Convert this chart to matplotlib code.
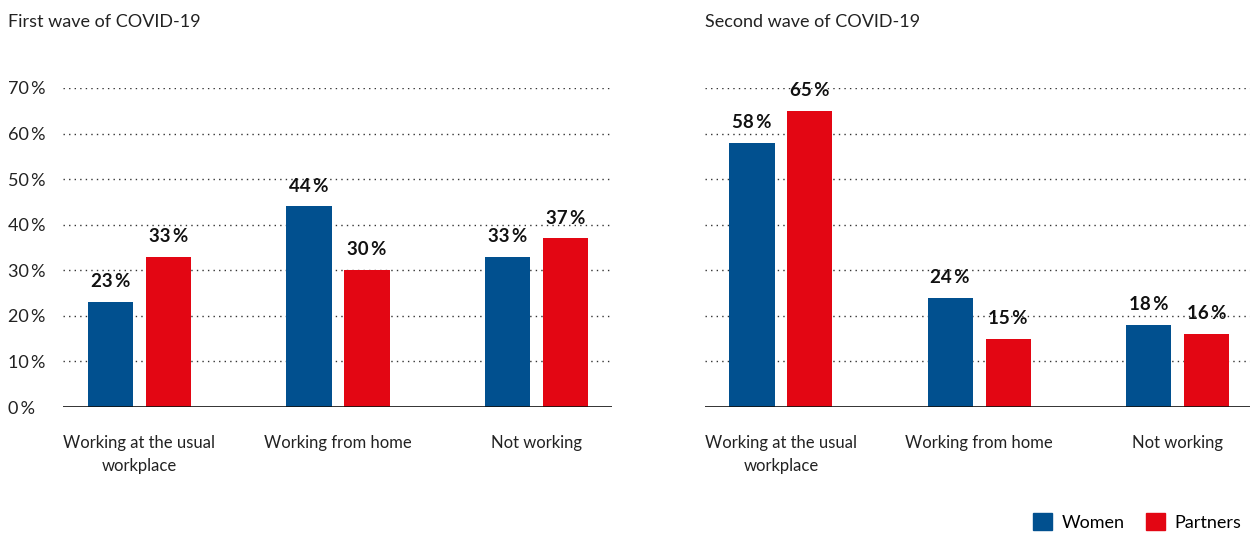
import numpy as np
import matplotlib.pyplot as plt
from matplotlib.patches import Patch

plt.rcParams['font.family'] = ['Lato', 'DejaVu Sans']

# Datos de las dos olas
categorias = ["Working at the usual\nworkplace", "Working from home", "Not working"]
mujeres_ola1 = [23, 44, 33]
parejas_ola1 = [33, 30, 37]
mujeres_ola2 = [58, 24, 18]
parejas_ola2 = [65, 15, 16]
titulos = ["First wave of COVID-19", "Second wave of COVID-19"]
yticks = [0, 10, 20, 30, 40, 50, 60, 70]

azul = "#01508F"
rojo = "#E30613"

fig = plt.figure(figsize=(12.58, 5.33), dpi=100)
ax1 = fig.add_axes([63/1258, 126/533, 549/1258, 319/533])
ax2 = fig.add_axes([705/1258, 126/533, 545/1258, 319/533])

x = np.arange(len(categorias))
ancho = 0.228
desp = 0.146


def dibujar(ax, mujeres, parejas, etiquetas_y, xlim):
    b1 = ax.bar(x - desp, mujeres, ancho, color=azul, zorder=3)
    b2 = ax.bar(x + desp, parejas, ancho, color=rojo, zorder=3)
    for barras, vals in ((b1, mujeres), (b2, parejas)):
        for b, v in zip(barras, vals):
            ax.text(b.get_x() + b.get_width()/2, v + 2.6, f"{v}\u2009%",
                    ha="center", va="bottom", fontsize=13.5, fontweight="bold",
                    color="#111111", clip_on=False, zorder=4)
    ax.set_ylim(0, 70)
    ax.set_xlim(*xlim)
    ax.set_yticks(yticks)
    for s in ax.spines.values():
        s.set_visible(False)
    for t in yticks[1:]:
        ax.axhline(t, color="#333333", lw=1.0, ls=(0, (1, 3)), zorder=1)
    ax.axhline(0, color="#111111", lw=1.2, zorder=4)
    ax.set_xticks(x)
    ax.set_xticklabels(categorias, fontsize=12, color="#222222", linespacing=1.55)
    ax.tick_params(axis="x", length=0, pad=20)
    if etiquetas_y:
        ax.set_yticklabels([f"{t}\u2009%" for t in yticks], fontsize=13,
                           color="#222222", ha="left")
        ax.tick_params(axis="y", length=0, pad=39.6)
    else:
        ax.set_yticklabels([])
        ax.tick_params(axis="y", length=0)


dibujar(ax1, mujeres_ola1, parejas_ola1, True, (-0.385, 2.38))
dibujar(ax2, mujeres_ola2, parejas_ola2, False, (-0.383, 2.366))

fig.text(8/1258, 1 - 22/533, titulos[0], fontsize=13, color="#222222", va="center")
fig.text(705/1258, 1 - 22/533, titulos[1], fontsize=13, color="#222222", va="center")

fig.legend(handles=[Patch(color=azul, label="Women"), Patch(color=rojo, label="Partners")],
           loc="lower left", bbox_to_anchor=(1033/1258, 0.004), ncol=2,
           frameon=False, fontsize=13, handlelength=1.05, handleheight=1.05,
           columnspacing=1.15, handletextpad=0.55, borderpad=0, borderaxespad=0)

fig.savefig("out.png", dpi=100)
